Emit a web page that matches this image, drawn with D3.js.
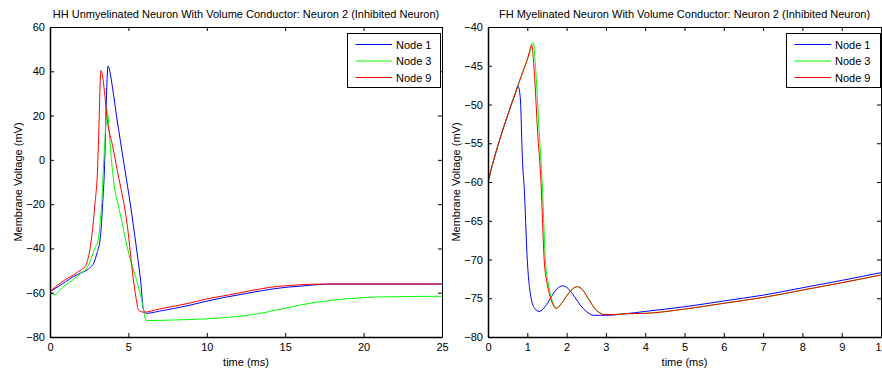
<!DOCTYPE html>
<html>
<head>
<meta charset="utf-8">
<script src="https://cdn.jsdelivr.net/npm/d3@7"></script>
<style>
html,body{margin:0;padding:0;background:#fff;}
svg{display:block;font-family:"Liberation Sans",Arial,sans-serif;}
</style>
</head>
<body>
<svg id="chart" width="882" height="373"></svg>
<script>
// ---------- Left panel: HH Unmyelinated ----------
const hhTitle = "HH Unmyelinated Neuron With Volume Conductor: Neuron 2 (Inhibited Neuron)";
const hhXTicks = [0, 5, 10, 15, 20, 25];
const hhYTicks = [-80, -60, -40, -20, 0, 20, 40, 60];

const hhNode1T = [0,0.5,1,1.5,2,2.4,2.8,3.0,3.19,3.3,3.36,3.47,3.55,3.62,3.7,3.8,4.0,4.25,4.5,4.79,5.1,5.53,5.8,5.96,6.17,7,8,9,10,11,12,13,14,15,16,17,17.8,25];
const hhNode1V = [-59.5,-57.3,-55,-52.7,-51,-49.5,-46.5,-42,-36.2,-27,-19.6,-4.6,15,33,42.4,40.5,32,19.5,8,-5,-19,-40.7,-56,-67.8,-69.3,-68.3,-67,-65.5,-63.8,-62.3,-61,-59.7,-58.5,-57.6,-57,-56.4,-56.1,-56.1];

const hhNode3T = [0,0.15,0.32,0.6,1,1.5,2,2.34,2.6,2.85,3.08,3.2,3.3,3.4,3.5,3.62,3.7,3.83,4.05,4.47,5.1,5.64,5.9,6.13,7,8,9,10,11,12,13,14,15,16,17,18,19,20,21,22,23,25];
const hhNode3V = [-59.5,-60.5,-61,-59,-56.5,-54,-51,-49,-45,-40,-36.2,-28,-19.6,-4.6,8,22.8,20,7.5,-9,-24.1,-44.5,-57.3,-65,-72.6,-72.5,-72.3,-72.1,-71.8,-71.3,-70.7,-69.8,-68.5,-67,-65.5,-64.3,-63.4,-62.7,-62.2,-61.9,-61.8,-61.7,-61.6];

const hhNode9T = [0,0.5,1,1.5,2,2.24,2.45,2.66,2.87,3.03,3.12,3.2,3.25,3.35,3.5,3.62,4.0,4.3,4.94,5.32,5.5,5.64,5.96,7,8,9,10,11,12,13,14,15,16,17,25];
const hhNode9V = [-59.5,-56.5,-54,-52,-49.5,-48.2,-44,-34.7,-19.6,-4.6,15,35,40.3,38,29,20,6,-5,-30.2,-54.2,-63,-67.8,-68.8,-67.3,-66,-64.5,-62.8,-61.5,-60.2,-58.8,-57.6,-56.9,-56.4,-56.1,-56.1];

// ---------- Right panel: FH Myelinated ----------
const fhTitle = "FH Myelinated Neuron With Volume Conductor: Neuron 2 (Inhibited Neuron)";
const fhXTicks = [0,1,2,3,4,5,6,7,8,9,10];
const fhYTicks = [-80,-75,-70,-65,-60,-55,-50,-45,-40];

const fhNode1T = [0,0.1,0.2,0.3,0.4,0.5,0.6,0.7,0.76,0.82,0.88,0.92,1.0,1.09,1.2,1.3,1.45,1.6,1.75,1.9,2.05,2.2,2.35,2.5,2.7,3.0,3.5,4,5,6,7,8,9,10];
const fhNode1V = [-60,-58,-56.2,-54.5,-52.9,-51.4,-49.9,-48.5,-47.6,-49,-57.6,-60.6,-70.1,-74.8,-76.4,-76.7,-76.1,-74.9,-73.8,-73.4,-73.8,-74.8,-75.9,-76.7,-77.2,-77.2,-77.0,-76.7,-76.1,-75.35,-74.6,-73.65,-72.7,-71.7];

const fhNode3T = [0,0.1,0.2,0.3,0.4,0.5,0.6,0.7,0.8,0.9,1.0,1.08,1.15,1.22,1.3,1.38,1.46,1.53,1.59,1.68,1.75,1.85,2.0,2.15,2.28,2.4,2.55,2.7,2.85,2.95,3.2,3.5,4,5,6,7,8,9,10];
const fhNode3V = [-60,-58,-56.2,-54.5,-52.9,-51.4,-49.9,-48.5,-47,-45.6,-44.2,-43,-42,-46,-53.3,-60.2,-70,-73,-74.5,-75.9,-76.3,-75.8,-74.7,-73.8,-73.5,-73.9,-75,-76.2,-76.9,-77.1,-77.1,-77.0,-76.95,-76.4,-75.65,-74.9,-73.95,-73.0,-72.0];

const fhNode9T = [0,0.1,0.2,0.3,0.4,0.5,0.6,0.7,0.8,0.9,1.0,1.05,1.11,1.18,1.26,1.35,1.43,1.5,1.56,1.65,1.73,1.85,2.0,2.15,2.28,2.4,2.55,2.7,2.85,2.95,3.2,3.5,4,5,6,7,8,9,10];
const fhNode9V = [-60,-58,-56.2,-54.5,-52.9,-51.4,-49.9,-48.5,-47,-45.6,-44.2,-43.3,-42.3,-46,-53.3,-60.2,-70.1,-73,-74.4,-75.8,-76.3,-75.8,-74.7,-73.8,-73.5,-73.9,-75,-76.2,-76.9,-77.1,-77.1,-77.0,-76.95,-76.4,-75.65,-74.9,-73.95,-73.0,-72.0];

const legendLabels = ["Node 1", "Node 3", "Node 9"];
const seriesColors = ["#0000ff", "#00ff00", "#ff0000"];

const svg = d3.select("#chart");
const FONT = 11;

function zip(t, v){ return t.map((d,i)=>[d, v[i]]); }

function panel(cfg){
  const {x0, x1, y0, y1, xDomain, yDomain, xTicks, yTicks, title, series, legend} = cfg;
  const x = d3.scaleLinear().domain(xDomain).range([x0, x1]);
  const y = d3.scaleLinear().domain(yDomain).range([y1, y0]);
  const g = svg.append("g");

  // clip
  const id = "clip" + Math.round(x0);
  svg.append("clipPath").attr("id", id).append("rect")
    .attr("x", x0).attr("y", y0).attr("width", x1-x0).attr("height", y1-y0);

  const line = d3.line().x(d=>x(d[0])).y(d=>y(d[1])).curve(d3.curveMonotoneX);
  const lg = g.append("g").attr("clip-path", `url(#${id})`);
  series.forEach((s,i)=>{
    lg.append("path").datum(s).attr("d", line)
      .attr("fill","none").attr("stroke", seriesColors[i]).attr("stroke-width", 1);
  });

  // axes
  const styleAxis = (sel, w) => {
    sel.select(".domain").attr("stroke","#000").attr("stroke-width", w);
    sel.selectAll(".tick line").attr("stroke","#000").attr("stroke-width",1);
    sel.selectAll("text").attr("fill","#000").style("font-size", FONT+"px")
      .style("font-family", '"Liberation Sans",Arial,sans-serif');
  };
  g.append("g").attr("transform",`translate(0,${y1})`)
    .call(d3.axisBottom(x).tickValues(xTicks).tickFormat(d3.format("d")).tickSizeInner(-4).tickSizeOuter(0).tickPadding(6))
    .call(s=>styleAxis(s,1.5));
  g.append("g").attr("transform",`translate(${x0},0)`)
    .call(d3.axisLeft(y).tickValues(yTicks).tickFormat(d3.format("d")).tickSizeInner(-4).tickSizeOuter(0).tickPadding(5))
    .call(s=>styleAxis(s,1.5));
  g.append("g").attr("transform",`translate(0,${y0})`)
    .call(d3.axisTop(x).tickValues(xTicks).tickFormat("").tickSizeInner(-4).tickSizeOuter(0))
    .call(s=>styleAxis(s,1));
  g.append("g").attr("transform",`translate(${x1},0)`)
    .call(d3.axisRight(y).tickValues(yTicks).tickFormat("").tickSizeInner(-4).tickSizeOuter(0))
    .call(s=>styleAxis(s,1));

  // title
  g.append("text").attr("x",(x0+x1)/2).attr("y",18).attr("text-anchor","middle")
    .style("font-size",FONT+"px").text(title);
  // x label
  g.append("text").attr("x",(x0+x1)/2).attr("y",366).attr("text-anchor","middle")
    .style("font-size",FONT+"px").text("time (ms)");
  // y label
  g.append("text").attr("transform",`translate(${x0-28.5},${(y0+y1)/2}) rotate(-90)`)
    .attr("text-anchor","middle").style("font-size",FONT+"px").text("Membrane Voltage (mV)");

  // legend
  const L = legend;
  const lgd = g.append("g");
  lgd.append("rect").attr("x",L.x).attr("y",L.y).attr("width",L.w).attr("height",L.h)
    .attr("fill","#fff").attr("stroke","#000").attr("stroke-width",1);
  legendLabels.forEach((lab,i)=>{
    const yy = L.y + 11 + i*16.5;
    lgd.append("line").attr("x1",L.x+8).attr("x2",L.x+44.5).attr("y1",yy).attr("y2",yy)
      .attr("stroke",seriesColors[i]).attr("stroke-width",1);
    lgd.append("text").attr("x",L.x+48.5).attr("y",yy+4).style("font-size",FONT+"px").text(lab);
  });
}

panel({
  x0:50, x1:442, y0:27, y1:337,
  xDomain:[0,25], yDomain:[-80,60], xTicks:hhXTicks, yTicks:hhYTicks,
  title:hhTitle,
  series:[zip(hhNode1T,hhNode1V), zip(hhNode3T,hhNode3V), zip(hhNode9T,hhNode9V)],
  legend:{x:347.5, y:33.5, w:93, h:54}
});
panel({
  x0:488, x1:881, y0:27, y1:337,
  xDomain:[0,10], yDomain:[-80,-40], xTicks:fhXTicks, yTicks:fhYTicks,
  title:fhTitle,
  series:[zip(fhNode1T,fhNode1V), zip(fhNode3T,fhNode3V), zip(fhNode9T,fhNode9V)],
  legend:{x:786.5, y:33.5, w:94, h:54}
});
</script>
</body>
</html>
